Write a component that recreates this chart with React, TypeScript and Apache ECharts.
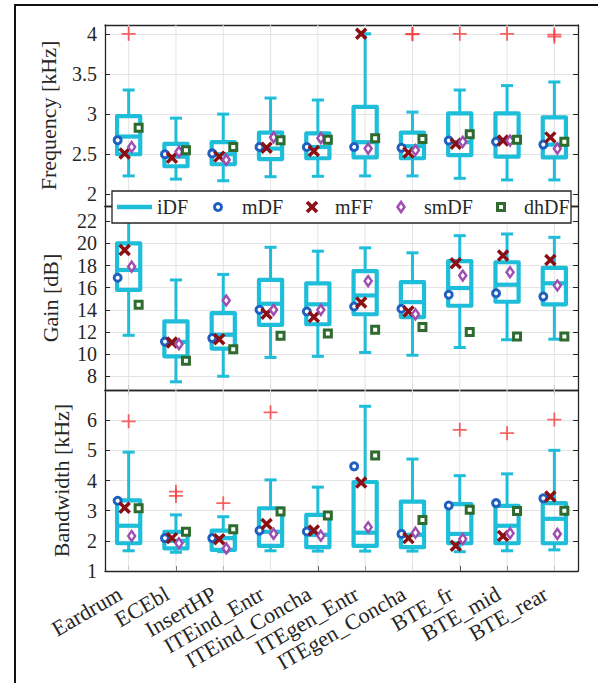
import React, { useEffect, useRef } from 'react';
import * as echarts from 'echarts';

// Measurement positions along the x axis
const categories = [
  'Eardrum', 'ECEbl', 'InsertHP', 'ITEind_Entr', 'ITEind_Concha',
  'ITEgen_Entr', 'ITEgen_Concha', 'BTE_fr', 'BTE_mid', 'BTE_rear',
];

// iDF box statistics per position: [lower whisker, Q1, median, Q3, upper whisker]
const freqBox = [
  [2.23, 2.50, 2.72, 2.975, 3.30],
  [2.19, 2.35, 2.47, 2.63, 2.95],
  [2.17, 2.375, 2.50, 2.65, 3.00],
  [2.22, 2.44, 2.57, 2.77, 3.20],
  [2.225, 2.45, 2.59, 2.76, 3.175],
  [2.23, 2.46, 2.65, 3.09, 4.00],
  [2.23, 2.45, 2.60, 2.77, 3.025],
  [2.20, 2.49, 2.65, 3.01, 3.30],
  [2.18, 2.47, 2.67, 3.01, 3.355],
  [2.18, 2.46, 2.62, 2.96, 3.40],
];
const freqMDF = [2.675, 2.50, 2.51, 2.59, 2.59, 2.59, 2.58, 2.67, 2.655, 2.62];
const freqMFF = [2.51, 2.455, 2.47, 2.58, 2.54, 4.00, 2.52, 2.63, 2.67, 2.71];
const freqSmDF = [2.59, 2.53, 2.43, 2.71, 2.70, 2.57, 2.55, 2.655, 2.67, 2.57];
const freqDhDF = [2.83, 2.55, 2.59, 2.675, 2.68, 2.70, 2.69, 2.75, 2.68, 2.655];
const freqOutliers = [
  ['Eardrum', 4.0], ['ITEgen_Concha', 4.0], ['ITEgen_Concha', 3.995],
  ['BTE_fr', 4.0], ['BTE_mid', 4.0], ['BTE_rear', 3.99], ['BTE_rear', 3.965],
];

const gainBox = [
  [11.7, 15.8, 17.6, 20.0, 23.0],
  [7.5, 9.8, 11.1, 12.95, 16.7],
  [8.0, 10.5, 11.75, 13.7, 17.2],
  [9.7, 12.65, 14.55, 16.7, 19.65],
  [9.8, 12.7, 14.5, 16.4, 19.3],
  [10.15, 13.6, 15.3, 17.5, 19.6],
  [9.9, 13.35, 14.7, 16.5, 19.15],
  [10.6, 14.37, 15.97, 18.4, 20.7],
  [11.3, 14.73, 16.27, 18.3, 20.85],
  [11.35, 14.5, 16.4, 17.8, 20.55],
];
const gainMDF = [16.9, 11.13, 11.45, 14.0, 13.85, 14.3, 14.1, 15.36, 15.5, 15.2];
const gainMFF = [19.4, 11.05, 11.35, 13.64, 13.35, 14.67, 13.85, 18.2, 18.9, 18.5];
const gainSmDF = [17.9, 10.9, 14.85, 14.0, 14.0, 16.6, 13.6, 17.1, 17.4, 16.2];
const gainDhDF = [14.45, 9.4, 10.45, 11.65, 11.87, 12.2, 12.45, 12.0, 11.6, 11.6];
const gainOutliers = [];

const bwBox = [
  [1.67, 1.92, 2.5, 3.34, 4.94],
  [1.62, 1.75, 2.0, 2.3, 2.86],
  [1.64, 1.70, 2.09, 2.34, 2.80],
  [1.67, 1.83, 2.3, 3.08, 4.02],
  [1.66, 1.79, 2.2, 2.86, 3.78],
  [1.66, 1.83, 2.27, 3.95, 6.46],
  [1.66, 1.79, 2.2, 3.30, 4.71],
  [1.64, 1.92, 2.23, 3.22, 4.16],
  [1.67, 1.92, 2.5, 3.16, 4.22],
  [1.70, 1.92, 2.73, 3.25, 5.0],
];
const bwMDF = [3.33, 2.09, 2.09, 2.34, 2.31, 4.47, 2.23, 3.17, 3.25, 3.41];
const bwMFF = [3.1, 2.09, 2.05, 2.56, 2.34, 3.93, 2.09, 1.84, 2.16, 3.47];
const bwSmDF = [2.16, 1.92, 1.75, 2.23, 2.17, 2.45, 2.27, 2.06, 2.25, 2.23];
const bwDhDF = [3.08, 2.3, 2.38, 2.97, 2.84, 4.83, 2.69, 3.03, 2.99, 3.0];
const bwOutliers = [
  ['Eardrum', 5.96], ['ECEbl', 3.63], ['ECEbl', 3.49], ['InsertHP', 3.25],
  ['ITEind_Entr', 6.26], ['BTE_fr', 5.68], ['BTE_mid', 5.57], ['BTE_rear', 6.02],
];

const FONT = '"Liberation Serif", "Times New Roman", serif';
const INK = '#262626';
const GRIDLINE = '#e4e4e4';
const CYAN = '#1ebdd9';
const BLUE = '#1f5fbf';
const DARKRED = '#8a1015';
const PURPLE = '#9f4db0';
const GREEN = '#2f6b2f';
const RED = '#f43c3c';

const CROSS = 'path://M0,0L10,10M10,0L0,10';
const PLUS = 'path://M7,0L7,14M0,7L14,7';

const panels = [
  {
    top: 25, height: 181, min: 1.855, max: 4.11, step: 0.5,
    name: 'Frequency [kHz]', nameGap: 46, showMin: false,
    box: freqBox, mdf: freqMDF, mff: freqMFF, smdf: freqSmDF, dhdf: freqDhDF, out: freqOutliers,
  },
  {
    top: 206, height: 184, min: 6.76, max: 23.38, step: 2,
    name: 'Gain [dB]', nameGap: 44, showMin: false,
    box: gainBox, mdf: gainMDF, mff: gainMFF, smdf: gainSmDF, dhdf: gainDhDF, out: gainOutliers,
  },
  {
    top: 390, height: 181, min: 1, max: 7, step: 1,
    name: 'Bandwidth [kHz]', nameGap: 33, showMin: true,
    box: bwBox, mdf: bwMDF, mff: bwMFF, smdf: bwSmDF, dhdf: bwDhDF, out: bwOutliers,
  },
];

const markerStyles = [
  { key: 'mdf', name: 'mDF', symbol: 'circle', size: 7, offset: -11, style: { color: '#fff', borderColor: BLUE, borderWidth: 3 } },
  { key: 'mff', name: 'mFF', symbol: CROSS, size: 10, offset: -4, style: { color: 'none', borderColor: DARKRED, borderWidth: 3.5 } },
  { key: 'smdf', name: 'smDF', symbol: 'diamond', size: [7, 10], offset: 3, style: { color: '#fff', borderColor: PURPLE, borderWidth: 2.5 } },
  { key: 'dhdf', name: 'dhDF', symbol: 'rect', size: 7, offset: 10, style: { color: '#fff', borderColor: GREEN, borderWidth: 3 } },
];

function renderBox(params: any, api: any) {
  const i = api.value(0);
  const lo = api.coord([i, api.value(1)]);
  const q1 = api.coord([i, api.value(2)]);
  const med = api.coord([i, api.value(3)]);
  const q3 = api.coord([i, api.value(4)]);
  const hi = api.coord([i, api.value(5)]);
  const x = q1[0];
  const half = api.size([1, 0])[0] * 0.245;
  const cap = half * 0.52;
  const thin = { stroke: CYAN, lineWidth: 3 };
  const thick = { stroke: CYAN, lineWidth: 4.2 };
  return {
    type: 'group',
    children: [
      { type: 'line', shape: { x1: x, y1: hi[1], x2: x, y2: q3[1] }, style: thin },
      { type: 'line', shape: { x1: x, y1: q1[1], x2: x, y2: lo[1] }, style: thin },
      { type: 'line', shape: { x1: x - cap, y1: hi[1], x2: x + cap, y2: hi[1] }, style: thin },
      { type: 'line', shape: { x1: x - cap, y1: lo[1], x2: x + cap, y2: lo[1] }, style: thin },
      {
        type: 'rect',
        shape: { x: x - half, y: q3[1], width: 2 * half, height: q1[1] - q3[1] },
        style: { fill: 'none', stroke: CYAN, lineWidth: 4.2, lineJoin: 'round' },
      },
      { type: 'line', shape: { x1: x - half, y1: med[1], x2: x + half, y2: med[1] }, style: thick },
    ],
  };
}

function renderVGrid(params: any, api: any) {
  const x = api.coord([api.value(0), 0])[0];
  const cs = params.coordSys;
  return {
    type: 'line',
    shape: { x1: x, y1: cs.y, x2: x, y2: cs.y + cs.height },
    style: { stroke: GRIDLINE, lineWidth: 1 },
  };
}

function buildOption() {
  const grid: any[] = [];
  const xAxis: any[] = [];
  const yAxis: any[] = [];
  const series: any[] = [];
  const axisLine = { show: true, lineStyle: { color: INK, width: 1.3 } };
  const tick = { show: true, inside: true, length: 5, lineStyle: { color: INK, width: 1 } };

  panels.forEach((p, k) => {
    const last = k === panels.length - 1;
    grid.push({ left: 105, right: 20, top: p.top, height: p.height });
    // bottom category axis
    xAxis.push({
      type: 'category', gridIndex: k, data: categories, position: 'bottom',
      axisLine, axisTick: { ...tick, alignWithLabel: true },
      splitLine: { show: false },
      axisLabel: last
        ? {
            show: true, rotate: 30, fontSize: 22, fontFamily: FONT, color: INK,
            margin: 16, padding: [0, 10, 0, 0], interval: 0,
          }
        : { show: false },
    });
    // mirrored top axis
    xAxis.push({
      type: 'category', gridIndex: k, data: categories, position: 'top',
      axisLine, axisTick: { ...tick, alignWithLabel: true },
      axisLabel: { show: false }, splitLine: { show: false },
    });
    const yBase = {
      type: 'value', gridIndex: k, min: p.min, max: p.max,
      minInterval: p.step, maxInterval: p.step, splitNumber: 5,
      axisLine, axisTick: tick,
    };
    yAxis.push({
      ...yBase, position: 'left',
      name: p.name, nameLocation: 'middle', nameGap: p.nameGap,
      nameTextStyle: { fontSize: 22, fontFamily: FONT, color: INK },
      splitLine: { show: true, lineStyle: { color: GRIDLINE, width: 1 } },
      axisLabel: {
        show: true, fontSize: 20, fontFamily: FONT, color: INK, margin: 8,
        showMinLabel: p.showMin, showMaxLabel: false,
      },
    });
    yAxis.push({
      ...yBase, position: 'right',
      splitLine: { show: false }, axisLabel: { show: false },
    });

    const xi = 2 * k;
    const yi = 2 * k;
    series.push({
      type: 'custom', xAxisIndex: xi, yAxisIndex: yi, silent: true, z: 1,
      renderItem: renderVGrid,
      data: categories.map((_, i) => [i]),
      encode: { x: 0 },
    });
    series.push({
      type: 'custom', name: 'iDF', xAxisIndex: xi, yAxisIndex: yi, z: 2,
      renderItem: renderBox,
      data: p.box.map((b, i) => [i, ...b]),
      encode: { x: 0, y: [1, 2, 3, 4, 5] },
    });
    series.push({
      type: 'scatter', name: 'outlier', xAxisIndex: xi, yAxisIndex: yi, z: 3,
      symbol: PLUS, symbolSize: 14,
      itemStyle: { color: 'none', borderColor: RED, borderWidth: 1.8 },
      data: p.out,
    });
    markerStyles.forEach((m, j) => {
      const vals = (p as any)[m.key] as number[];
      series.push({
        type: 'scatter', name: m.name, xAxisIndex: xi, yAxisIndex: yi, z: 4 + j,
        symbol: m.symbol, symbolSize: m.size, symbolOffset: [m.offset, 0],
        itemStyle: { ...m.style, opacity: 1 },
        data: vals.map((v, i) => [categories[i], v]),
      });
    });
  });

  // legend box drawn across the junction of the first two panels
  const ly = 207;
  const lt = { fontSize: 20, fontFamily: FONT, fill: INK, verticalAlign: 'middle' };
  const legendItems: any[] = [
    { type: 'rect', shape: { x: 112, y: 191, width: 459, height: 32 }, style: { fill: '#fff', stroke: INK, lineWidth: 1.3 } },
    { type: 'line', shape: { x1: 117, y1: ly, x2: 152, y2: ly }, style: { stroke: CYAN, lineWidth: 4.5 } },
    { type: 'text', x: 157, y: ly, style: { ...lt, text: 'iDF' } },
    { type: 'circle', shape: { cx: 218, cy: ly, r: 3.5 }, style: { fill: '#fff', stroke: BLUE, lineWidth: 3 } },
    { type: 'text', x: 242, y: ly, style: { ...lt, text: 'mDF' } },
    { type: 'line', shape: { x1: 307, y1: ly - 5, x2: 317, y2: ly + 5 }, style: { stroke: DARKRED, lineWidth: 3.5 } },
    { type: 'line', shape: { x1: 317, y1: ly - 5, x2: 307, y2: ly + 5 }, style: { stroke: DARKRED, lineWidth: 3.5 } },
    { type: 'text', x: 335, y: ly, style: { ...lt, text: 'mFF' } },
    {
      type: 'polygon',
      shape: { points: [[401, ly - 5], [404.5, ly], [401, ly + 5], [397.5, ly]] },
      style: { fill: '#fff', stroke: PURPLE, lineWidth: 2.5 },
    },
    { type: 'text', x: 424, y: ly, style: { ...lt, text: 'smDF' } },
    { type: 'rect', shape: { x: 497.5, y: ly - 3.5, width: 7, height: 7 }, style: { fill: '#fff', stroke: GREEN, lineWidth: 3 } },
    { type: 'text', x: 524, y: ly, style: { ...lt, text: 'dhDF' } },
  ];

  const frameItems: any[] = [
    { type: 'line', shape: { x1: 14, y1: 5, x2: 598, y2: 5 }, style: { stroke: '#111', lineWidth: 2 } },
    { type: 'line', shape: { x1: 15, y1: 4, x2: 15, y2: 683 }, style: { stroke: '#111', lineWidth: 2 } },
  ];

  const graphic = [...frameItems, ...legendItems].map((el, i) => ({ ...el, z: 100 + i, silent: true }));

  return {
    animation: false,
    backgroundColor: '#fff',
    textStyle: { fontFamily: FONT },
    grid, xAxis, yAxis, series,
    graphic,
  };
}

export default function App() {
  const ref = useRef<HTMLDivElement>(null);
  useEffect(() => {
    if (!ref.current) return;
    const chart = echarts.init(ref.current, undefined, { renderer: 'svg' });
    chart.setOption(buildOption() as any);
    return () => chart.dispose();
  }, []);
  return (
    <div
      ref={ref}
      style={{ position: 'absolute', left: 0, top: 0, width: 598, height: 683, background: '#fff' }}
    />
  );
}
